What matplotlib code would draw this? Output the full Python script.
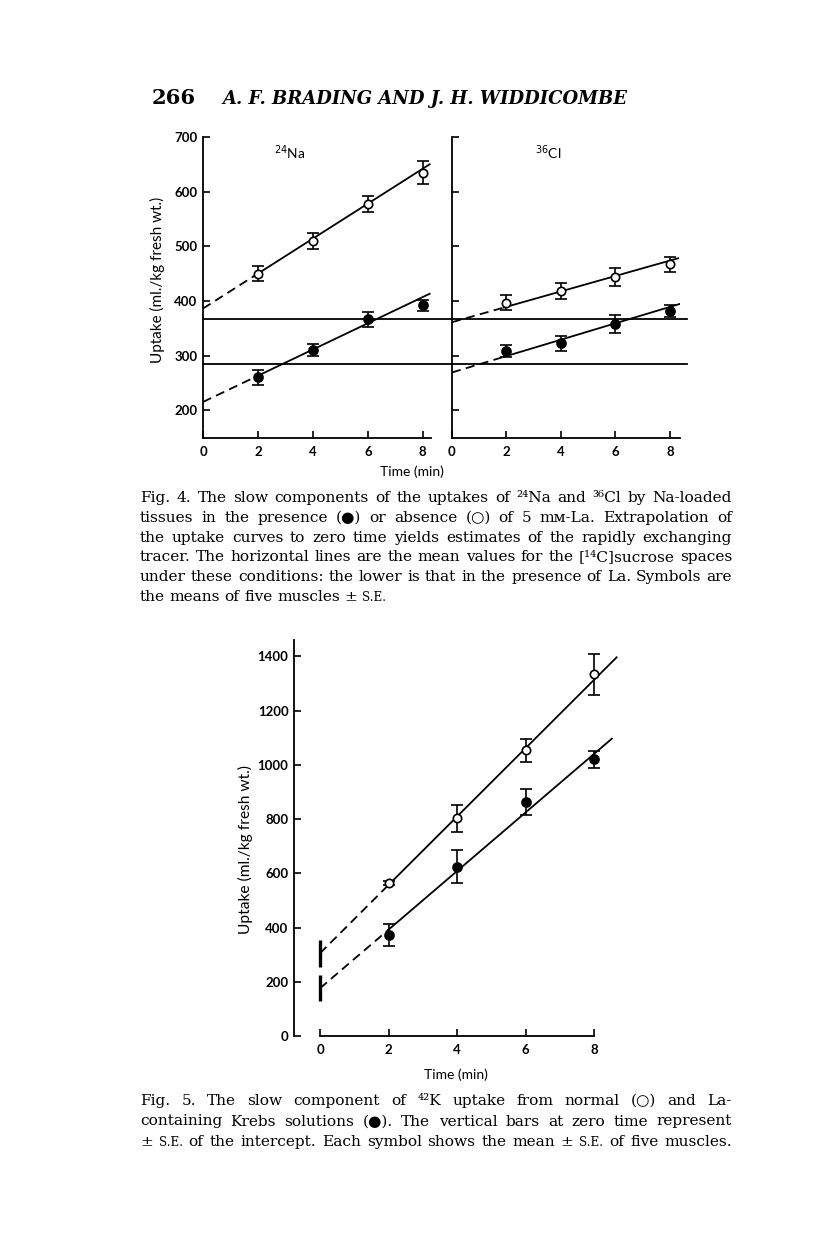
import numpy as np
import matplotlib.pyplot as plt

W, H = 816, 1234
SANS = "Lato"
SERIF = ["DejaVu Serif", "DejaVu Sans"]

times = [2, 4, 6, 8]

# Fig. 4, 24Na (open = no La, filled = with La)
na_open = [450, 510, 577, 635]
na_open_se = [14, 15, 15, 21]
na_fill = [260, 310, 366, 392]
na_fill_se = [14, 11, 13, 10]
na_open_fit = (386, 32.0)      # intercept, slope
na_fill_fit = (215, 24.0)

# Fig. 4, 36Cl
cl_open = [397, 418, 444, 467]
cl_open_se = [13, 15, 16, 14]
cl_fill = [309, 322, 358, 382]
cl_fill_se = [11, 14, 16, 11]
cl_open_fit = (361, 14.1)
cl_fill_fit = (269, 15.0)

# [14C]sucrose spaces (horizontal lines)
sucrose = [367, 284]

# Fig. 5, 42K
k_open = [565, 802, 1054, 1334]
k_open_se = [8, 49, 42, 75]
k_fill = [372, 624, 861, 1020]
k_fill_se = [41, 61, 48, 31]
k_open_fit = (305, 126.0)
k_fill_fit = (176, 108.0)
k_intercept_se = [50, 48]

cap4 = [
    "Fig. 4. The slow components of the uptakes of ²⁴Na and ³⁶Cl by Na-loaded",
    "tissues in the presence (●) or absence (○) of 5 mᴍ-La. Extrapolation of",
    "the uptake curves to zero time yields estimates of the rapidly exchanging",
    "tracer. The horizontal lines are the mean values for the [¹⁴C]sucrose spaces",
    "under these conditions: the lower is that in the presence of La. Symbols are",
    "the means of five muscles ± ~S.E.",
]
cap5 = [
    "Fig. 5. The slow component of ⁴²K uptake from normal (○) and La-",
    "containing Krebs solutions (●). The vertical bars at zero time represent",
    "± ~S.E. of the intercept. Each symbol shows the mean ± ~S.E. of five muscles.",
]

fig = plt.figure(figsize=(W / 100, H / 100), dpi=100)
renderer = fig.canvas.get_renderer()


def px_axes(x0, y0, x1, y1):
    ax = fig.add_axes([x0 / W, 1 - y1 / H, (x1 - x0) / W, (y1 - y0) / H])
    ax.patch.set_visible(False)
    return ax


def style(ax, ylabels=True):
    for s in ["top", "right"]:
        ax.spines[s].set_visible(False)
    for s in ["left", "bottom"]:
        ax.spines[s].set_linewidth(1.3)
    ax.tick_params(direction="in", length=5, width=1.2, pad=4,
                   labelsize=9.5, left=True, bottom=True)
    for lab in ax.get_xticklabels() + ax.get_yticklabels():
        lab.set_family(SANS)
        lab.set_fontweight("bold")
    ax.tick_params(axis="x", pad=6)
    if not ylabels:
        ax.set_yticklabels([])


def fit_line(ax, fit, t_dash, t_end):
    a, b = fit
    td = np.array([0, t_dash])
    ts = np.array([t_dash, t_end])
    ax.plot(td, a + b * td, color="k", lw=1.3, ls=(0, (5, 3)), zorder=2)
    ax.plot(ts, a + b * ts, color="k", lw=1.3, zorder=2)


def points(ax, y, se, filled):
    ax.errorbar(times, y, yerr=se, fmt="o", color="k", ms=6.5 if filled else 6,
                mfc="k" if filled else "white", mec="k", mew=1.2,
                capsize=4, elinewidth=1.2, capthick=1.2, zorder=3)


# ---- Fig. 4 ----
ax1 = px_axes(203, 137, 431, 438)
ax2 = px_axes(452, 137, 680, 438)
for ax, xmax in [(ax1, 8.3), (ax2, 8.37)]:
    ax.set_xlim(0, xmax)
    ax.set_ylim(149, 700)
    ax.set_xticks([0, 2, 4, 6, 8])
    ax.set_yticks([200, 300, 400, 500, 600, 700])
style(ax1)
style(ax2, ylabels=False)

points(ax1, na_open, na_open_se, False)
points(ax1, na_fill, na_fill_se, True)
fit_line(ax1, na_open_fit, 2, 8.25)
fit_line(ax1, na_fill_fit, 2, 8.25)

points(ax2, cl_open, cl_open_se, False)
points(ax2, cl_fill, cl_fill_se, True)
fit_line(ax2, cl_open_fit, 1.9, 8.3)
fit_line(ax2, cl_fill_fit, 1.9, 8.36)

for y in sucrose:
    ax1.plot([0, (687 - 203) / 228], [y, y], transform=ax1.get_yaxis_transform(),
             color="k", lw=1.3, clip_on=False, zorder=1)

fig.text(290 / W, 1 - 153 / H, "$^{24}$Na", family=SANS, fontsize=10,
         ha="center", va="center")
fig.text(548 / W, 1 - 153 / H, "$^{36}$Cl", family=SANS, fontsize=10,
         ha="center", va="center")
fig.text(157 / W, 1 - 280 / H, "Uptake (ml./kg fresh wt.)", family=SANS,
         fontsize=11, rotation=90, ha="center", va="center")
fig.text(412 / W, 1 - 472 / H, "Time (min)", family=SANS, fontsize=10,
         ha="center", va="center")

# ---- Fig. 5 ----
ax3 = px_axes(294, 640, 618, 1036)
ax3.set_xlim(-0.76, 8.7)
ax3.set_ylim(0, 1460)
ax3.set_xticks([0, 2, 4, 6, 8])
ax3.set_yticks(range(0, 1401, 200))
style(ax3)
ax3.spines["bottom"].set_bounds(0, 8)

points(ax3, k_open, k_open_se, False)
points(ax3, k_fill, k_fill_se, True)
fit_line(ax3, k_open_fit, 2, 8.66)
fit_line(ax3, k_fill_fit, 2, 8.52)
for fit, se in zip([k_open_fit, k_fill_fit], k_intercept_se):
    ax3.plot([0, 0], [fit[0] - se, fit[0] + se], color="k", lw=2.4,
             solid_capstyle="butt", zorder=3)

fig.text(245 / W, 1 - 850 / H, "Uptake (ml./kg fresh wt.)", family=SANS,
         fontsize=11.2, rotation=90, ha="center", va="center")
fig.text(456 / W, 1 - 1075 / H, "Time (min)", family=SANS, fontsize=10,
         ha="center", va="center")


# ---- page text ----
def fit_text(s, x0, x1, y, size, **kw):
    t = fig.text(x0 / W, 1 - y / H, s, fontsize=size, va="baseline", **kw)
    w = t.get_window_extent(renderer).width
    t.set_fontsize(size * (x1 - x0) / w)
    return t


def word_widths(line, size):
    out = []
    for w in line.split(" "):
        sz = size
        if w.startswith("~"):
            w, sz = w[1:], size * 0.78
        o = fig.text(0, 0, w, fontsize=sz, family=SERIF, va="baseline")
        out.append((o, o.get_window_extent(renderer).width))
    return out


def caption_size(lines, x0, x1, base=10):
    natural = []
    for line in lines[:-1] if len(lines) > 1 else lines:
        ww = word_widths(line, base)
        natural.append(sum(w for _, w in ww) + base * 0.30 * 100 / 72 * (len(ww) - 1))
        for o, _ in ww:
            o.remove()
    return base * (x1 - x0) / max(natural)


def justify(line, x0, x1, y, size, last=False):
    ww = word_widths(line, size)
    if last:
        gap = size * 0.30 * 100 / 72
    else:
        gap = (x1 - x0 - sum(w for _, w in ww)) / (len(ww) - 1)
    x = x0
    for o, w in ww:
        o.set_position((x / W, 1 - y / H))
        x += w + gap


fit_text("266", 152, 196, 104, 14, family="DejaVu Serif", fontweight="bold")
fit_text("A. F. BRADING AND J. H. WIDDICOMBE", 222, 625, 104, 13,
         family="DejaVu Serif", fontweight="bold", style="italic")

size = caption_size(cap4 + cap5[1:2], 140, 732)
for i, line in enumerate(cap4):
    justify(line, 140, 732, 502 + i * 19.8, size, last=(i == len(cap4) - 1))
for i, line in enumerate(cap5):
    justify(line, 140, 732, 1105 + i * 20.5, size)

fig.savefig("out.png", dpi=100)
